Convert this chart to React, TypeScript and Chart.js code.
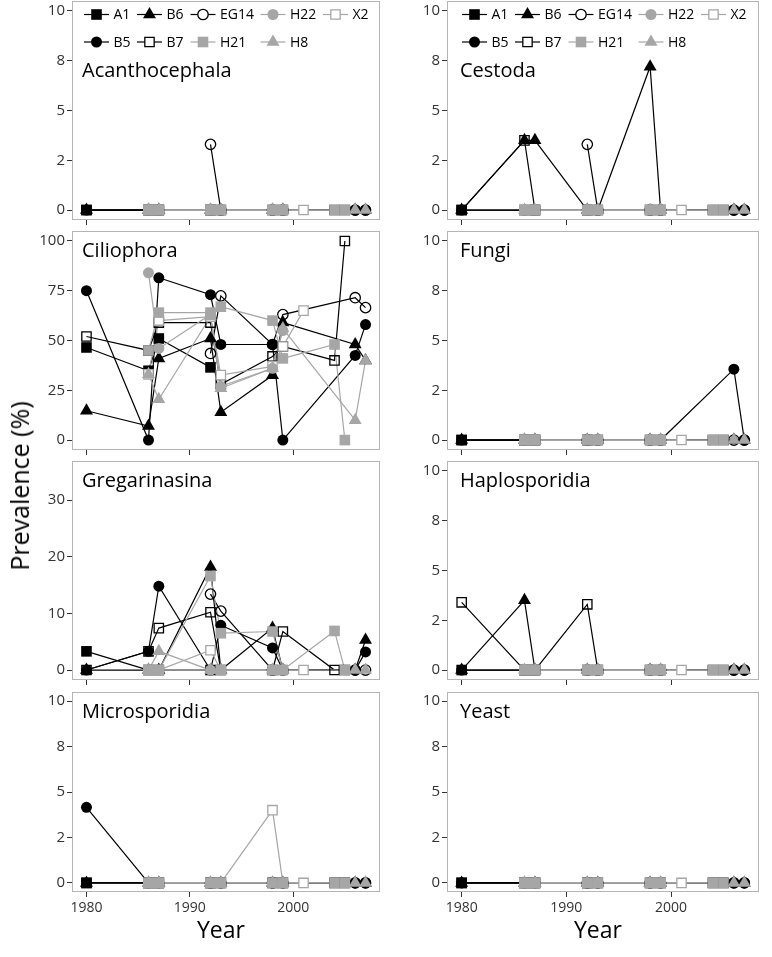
import React, { useEffect, useRef } from 'react';
import { Chart, registerables } from 'chart.js';
import { drawPoint } from 'chart.js/helpers';

Chart.register(...registerables);

const FONT = '"Open Sans", "DejaVu Sans", sans-serif';
const BLACK = '#000000';
const GREY = '#A6A6A6';

// ---- sites and sampling years ----
const sites = ['A1', 'B5', 'B6', 'B7', 'EG14', 'H21', 'H22', 'H8', 'X2'];

const yearsA1 = [1980, 1986, 1987, 1992];
const yearsB5 = [1980, 1986, 1987, 1992, 1993, 1998, 1999, 2006, 2007];
const yearsB6 = [1980, 1986, 1987, 1992, 1993, 1998, 1999, 2006, 2007];
const yearsB7 = [1980, 1986, 1987, 1992, 1993, 1998, 1999, 2004, 2005];
const yearsEG14 = [1992, 1993, 1998, 1999, 2006, 2007];
const yearsH21 = [1986, 1987, 1992, 1993, 1998, 1999, 2004, 2005];
const yearsH22 = [1986, 1987, 1992, 1993, 1998, 1999];
const yearsH8 = [1986, 1987, 1992, 1993, 1998, 1999, 2006, 2007];
const yearsX2 = [1986, 1987, 1992, 1993, 1998, 1999, 2001];

// ---- prevalence (%) values, same order as the years above ----
// Acanthocephala
const acanA1 = [0, 0, 0, 0];
const acanB5 = [0, 0, 0, 0, 0, 0, 0, 0, 0];
const acanB6 = [0, 0, 0, 0, 0, 0, 0, 0, 0];
const acanB7 = [0, 0, 0, 0, 0, 0, 0, 0, 0];
const acanEG14 = [3.3, 0, 0, 0, 0, 0];
const acanH21 = [0, 0, 0, 0, 0, 0, 0, 0];
const acanH22 = [0, 0, 0, 0, 0, 0];
const acanH8 = [0, 0, 0, 0, 0, 0, 0, 0];
const acanX2 = [0, 0, 0, 0, 0, 0, 0];

// Cestoda
const cestA1 = [0, 0, 0, 0];
const cestB5 = [0, 0, 0, 0, 0, 0, 0, 0, 0];
const cestB6 = [0, 3.5, 3.5, 0, 0, 7.2, 0, 0, 0];
const cestB7 = [0, 3.5, 0, 0, 0, 0, 0, 0, 0];
const cestEG14 = [3.3, 0, 0, 0, 0, 0];
const cestH21 = [0, 0, 0, 0, 0, 0, 0, 0];
const cestH22 = [0, 0, 0, 0, 0, 0];
const cestH8 = [0, 0, 0, 0, 0, 0, 0, 0];
const cestX2 = [0, 0, 0, 0, 0, 0, 0];

// Ciliophora
const ciliA1 = [46.5, 34.8, 51, 36.5];
const ciliB5 = [75, 0, 81.5, 73, 48, 48, 0, 42.5, 58];
const ciliB6 = [14.7, 7, 41, 51, 14, 32.5, 59, 48, 40];
const ciliB7 = [52, 45, 59, 59, 28, 42, 47, 40, 100];
const ciliEG14 = [43.5, 72.4, 48, 63, 71.5, 66.5];
const ciliH21 = [45, 64, 64, 67, 60, 41, 48, 0];
const ciliH22 = [84, 46, 63, 27, 36, 55];
const ciliH8 = [33, 20.5, 62, 26, 36, 56, 10, 40];
const ciliX2 = [33, 60, 62, 32.6, 37, 47, 65];

// Fungi
const fungA1 = [0, 0, 0, 0];
const fungB5 = [0, 0, 0, 0, 0, 0, 0, 3.56, 0];
const fungB6 = [0, 0, 0, 0, 0, 0, 0, 0, 0];
const fungB7 = [0, 0, 0, 0, 0, 0, 0, 0, 0];
const fungEG14 = [0, 0, 0, 0, 0, 0];
const fungH21 = [0, 0, 0, 0, 0, 0, 0, 0];
const fungH22 = [0, 0, 0, 0, 0, 0];
const fungH8 = [0, 0, 0, 0, 0, 0, 0, 0];
const fungX2 = [0, 0, 0, 0, 0, 0, 0];

// Gregarinasina
const gregA1 = [3.3, 0, 0, 0];
const gregB5 = [0, 3.3, 14.8, 0, 7.9, 3.9, 0, 0, 3.2];
const gregB6 = [0, 0, 0, 18.2, 0, 7.4, 0, 0, 5.3];
const gregB7 = [0, 3.3, 7.4, 10.2, 0, 0, 6.8, 0, 0];
const gregEG14 = [13.4, 10.4, 0, 0, 0, 0];
const gregH21 = [0, 0, 16.6, 6.5, 6.8, 0, 6.9, 0];
const gregH22 = [0, 0, 0, 0, 0, 0];
const gregH8 = [0, 3.3, 0, 0, 0, 0, 0, 0];
const gregX2 = [0, 0, 3.5, 0, 0, 0, 0];

// Haplosporidia
const haplA1 = [0, 0, 0, 0];
const haplB5 = [0, 0, 0, 0, 0, 0, 0, 0, 0];
const haplB6 = [0, 3.5, 0, 0, 0, 0, 0, 0, 0];
const haplB7 = [3.4, 0, 0, 3.3, 0, 0, 0, 0, 0];
const haplEG14 = [0, 0, 0, 0, 0, 0];
const haplH21 = [0, 0, 0, 0, 0, 0, 0, 0];
const haplH22 = [0, 0, 0, 0, 0, 0];
const haplH8 = [0, 0, 0, 0, 0, 0, 0, 0];
const haplX2 = [0, 0, 0, 0, 0, 0, 0];

// Microsporidia
const micrA1 = [0, 0, 0, 0];
const micrB5 = [4.16, 0, 0, 0, 0, 0, 0, 0, 0];
const micrB6 = [0, 0, 0, 0, 0, 0, 0, 0, 0];
const micrB7 = [0, 0, 0, 0, 0, 0, 0, 0, 0];
const micrEG14 = [0, 0, 0, 0, 0, 0];
const micrH21 = [0, 0, 0, 0, 0, 0, 0, 0];
const micrH22 = [0, 0, 0, 0, 0, 0];
const micrH8 = [0, 0, 0, 0, 0, 0, 0, 0];
const micrX2 = [0, 0, 0, 0, 4.0, 0, 0];

// Yeast
const yeasA1 = [0, 0, 0, 0];
const yeasB5 = [0, 0, 0, 0, 0, 0, 0, 0, 0];
const yeasB6 = [0, 0, 0, 0, 0, 0, 0, 0, 0];
const yeasB7 = [0, 0, 0, 0, 0, 0, 0, 0, 0];
const yeasEG14 = [0, 0, 0, 0, 0, 0];
const yeasH21 = [0, 0, 0, 0, 0, 0, 0, 0];
const yeasH22 = [0, 0, 0, 0, 0, 0];
const yeasH8 = [0, 0, 0, 0, 0, 0, 0, 0];
const yeasX2 = [0, 0, 0, 0, 0, 0, 0];

// ---- tick values / labels ----
const xTickValues = [1980, 1990, 2000];
const xTickLabels = ['1980', '1990', '2000'];
const smallTickValues = [0, 2.5, 5, 7.5, 10];
const smallTickLabels = ['0', '2', '5', '8', '10'];
const ciliTickValues = [0, 25, 50, 75, 100];
const ciliTickLabels = ['0', '25', '50', '75', '100'];
const gregTickValues = [0, 10, 20, 30];
const gregTickLabels = ['0', '10', '20', '30'];

const siteYears = [yearsA1, yearsB5, yearsB6, yearsB7, yearsEG14, yearsH21, yearsH22, yearsH8, yearsX2];

// ---- visual styles per site ----
const CLEAR = 'rgba(255,255,255,0)';
const siteStyle: Record<string, any> = {
  A1: { color: BLACK, fill: BLACK, shape: 'rect', r: 7.5, bw: 0 },
  B5: { color: BLACK, fill: BLACK, shape: 'circle', r: 5.5, bw: 0 },
  B6: { color: BLACK, fill: BLACK, shape: 'triangle', r: 7.5, bw: 0 },
  B7: { color: BLACK, fill: CLEAR, shape: 'rect', r: 6.6, bw: 1.3 },
  EG14: { color: BLACK, fill: CLEAR, shape: 'circle', r: 5.2, bw: 1.3 },
  H21: { color: GREY, fill: GREY, shape: 'rect', r: 7.5, bw: 0 },
  H22: { color: GREY, fill: GREY, shape: 'circle', r: 5.5, bw: 0 },
  H8: { color: GREY, fill: GREY, shape: 'triangle', r: 7.5, bw: 0 },
  X2: { color: GREY, fill: '#FFFFFF', shape: 'rect', r: 6.6, bw: 1.3 },
};
// stacking of markers (bottom -> top)
const pointStack = ['B5', 'B6', 'B7', 'EG14', 'A1', 'X2', 'H22', 'H8', 'H21'];

const legendCols = [['A1', 'B5'], ['B6', 'B7'], ['EG14', 'H21'], ['H22', 'H8'], ['X2']];
const legendColX = [12, 65, 118.5, 188.5, 251];
const legendRowY = [13.5, 41];

const colX = [[72, 380], [447, 759]];
const rowY = [[1, 220], [231, 450], [461, 680], [692, 892]];

type PanelDef = {
  title: string; col: number; row: number; values: number[][];
  yMin: number; yMax: number; ticks: number[]; labels: string[];
};

const panels: PanelDef[] = [
  { title: 'Acanthocephala', col: 0, row: 0, values: [acanA1, acanB5, acanB6, acanB7, acanEG14, acanH21, acanH22, acanH8, acanX2], yMin: -0.5, yMax: 10.5, ticks: smallTickValues, labels: smallTickLabels },
  { title: 'Cestoda', col: 1, row: 0, values: [cestA1, cestB5, cestB6, cestB7, cestEG14, cestH21, cestH22, cestH8, cestX2], yMin: -0.5, yMax: 10.5, ticks: smallTickValues, labels: smallTickLabels },
  { title: 'Ciliophora', col: 0, row: 1, values: [ciliA1, ciliB5, ciliB6, ciliB7, ciliEG14, ciliH21, ciliH22, ciliH8, ciliX2], yMin: -5, yMax: 105, ticks: ciliTickValues, labels: ciliTickLabels },
  { title: 'Fungi', col: 1, row: 1, values: [fungA1, fungB5, fungB6, fungB7, fungEG14, fungH21, fungH22, fungH8, fungX2], yMin: -0.5, yMax: 10.5, ticks: smallTickValues, labels: smallTickLabels },
  { title: 'Gregarinasina', col: 0, row: 2, values: [gregA1, gregB5, gregB6, gregB7, gregEG14, gregH21, gregH22, gregH8, gregX2], yMin: -1.76, yMax: 36.9, ticks: gregTickValues, labels: gregTickLabels },
  { title: 'Haplosporidia', col: 1, row: 2, values: [haplA1, haplB5, haplB6, haplB7, haplEG14, haplH21, haplH22, haplH8, haplX2], yMin: -0.5, yMax: 10.5, ticks: smallTickValues, labels: smallTickLabels },
  { title: 'Microsporidia', col: 0, row: 3, values: [micrA1, micrB5, micrB6, micrB7, micrEG14, micrH21, micrH22, micrH8, micrX2], yMin: -0.5, yMax: 10.5, ticks: smallTickValues, labels: smallTickLabels },
  { title: 'Yeast', col: 1, row: 3, values: [yeasA1, yeasB5, yeasB6, yeasB7, yeasEG14, yeasH21, yeasH22, yeasH8, yeasX2], yMin: -0.5, yMax: 10.5, ticks: smallTickValues, labels: smallTickLabels },
];

const PAD_TOP = 14;
const PAD_RIGHT = 12;
const PAD_BOTTOM = 6;
const Y_AXIS_W = 50;

const panelDecor = {
  id: 'panelDecor',
  afterDatasetsDraw(chart: any, _args: any, opts: any) {
    const { ctx, chartArea: a } = chart;
    ctx.save();
    ctx.strokeStyle = '#B5B5B5';
    ctx.lineWidth = 1;
    ctx.strokeRect(Math.round(a.left) + 0.5, Math.round(a.top) + 0.5, Math.round(a.right - a.left) - 1, Math.round(a.bottom - a.top) - 1);

    ctx.fillStyle = '#000';
    ctx.font = `20px ${FONT}`;
    ctx.textAlign = 'left';
    ctx.textBaseline = 'alphabetic';
    ctx.fillText(opts.title, a.left + opts.dx + 10, a.top + (opts.showLegend ? 76 : 26));

    if (opts.showLegend) {
      legendCols.forEach((col, ci) => {
        col.forEach((site, ri) => {
          const st = siteStyle[site];
          const x = a.left + legendColX[ci] + opts.dx;
          const y = a.top + legendRowY[ri];
          ctx.strokeStyle = st.color;
          ctx.lineWidth = 1.2;
          ctx.beginPath();
          ctx.moveTo(x, y);
          ctx.lineTo(x + 25, y);
          ctx.stroke();
          ctx.fillStyle = st.fill === CLEAR ? '#FFFFFF' : st.fill;
          ctx.strokeStyle = st.color;
          ctx.lineWidth = st.bw;
          drawPoint(ctx, { pointStyle: st.shape, radius: st.r, rotation: 0, borderWidth: st.bw }, x + 12.5, y);
          ctx.fillStyle = '#000';
          ctx.font = `14px ${FONT}`;
          ctx.textAlign = 'left';
          ctx.textBaseline = 'middle';
          ctx.fillText(site, x + 29.5, y + 1);
        });
      });
    }
    ctx.restore();
  },
};

function Panel({ p }: { p: PanelDef }) {
  const ref = useRef<HTMLCanvasElement | null>(null);
  const [x0, x1] = colX[p.col];
  const [y0, y1] = rowY[p.row];
  const isBottom = p.row === 3;
  const xAxisH = isBottom ? 30 : 8;
  const width = x1 - x0 + Y_AXIS_W + PAD_RIGHT;
  const height = y1 - y0 + PAD_TOP + xAxisH + PAD_BOTTOM;

  useEffect(() => {
    if (!ref.current) return;
    const lineSets = sites.map((site, i) => {
      const st = siteStyle[site];
      return {
        label: site + '-line',
        data: siteYears[i].map((yr, k) => ({ x: yr, y: p.values[i][k] })),
        borderColor: st.color,
        borderWidth: 1.2,
        pointRadius: 0,
        showLine: true,
        fill: false,
        tension: 0,
        order: 40 - i,
      };
    });
    const pointSets = sites.map((site, i) => {
      const st = siteStyle[site];
      return {
        label: site,
        data: siteYears[i].map((yr, k) => ({ x: yr, y: p.values[i][k] })),
        showLine: false,
        pointStyle: st.shape,
        pointRadius: st.r,
        pointBackgroundColor: st.fill,
        pointBorderColor: st.color,
        pointBorderWidth: st.bw,
        borderColor: st.color,
        backgroundColor: st.fill,
        order: 20 - pointStack.indexOf(site),
      };
    });

    const chart = new Chart(ref.current, {
      type: 'line',
      data: { datasets: [...lineSets, ...pointSets] as any },
      options: {
        animation: false,
        responsive: false,
        maintainAspectRatio: false,
        devicePixelRatio: 1,
        events: [],
        layout: { padding: { left: 0, top: PAD_TOP, right: PAD_RIGHT, bottom: PAD_BOTTOM } },
        plugins: {
          legend: { display: false },
          tooltip: { enabled: false },
          title: { display: false },
          panelDecor: { title: p.title, showLegend: p.row === 0, dx: p.col === 1 ? 3 : 0 },
        } as any,
        scales: {
          x: {
            type: 'linear',
            min: 1978.6,
            max: 2008.4,
            afterBuildTicks: (s: any) => { s.ticks = xTickValues.map((v) => ({ value: v })); },
            afterFit: (s: any) => { s.height = xAxisH; },
            grid: { drawOnChartArea: false, drawTicks: true, tickLength: 5, color: '#333', tickColor: '#333', lineWidth: 1 },
            border: { display: false },
            ticks: {
              display: isBottom,
              padding: 3,
              maxRotation: 0,
              autoSkip: false,
              color: '#333',
              font: { family: FONT, size: 14 },
              callback: (_v: any, i: number) => xTickLabels[i],
            },
          },
          y: {
            type: 'linear',
            min: p.yMin,
            max: p.yMax,
            afterBuildTicks: (s: any) => { s.ticks = p.ticks.map((v) => ({ value: v })); },
            afterFit: (s: any) => { s.width = Y_AXIS_W; },
            grid: { drawOnChartArea: false, drawTicks: true, tickLength: 5, color: '#333', tickColor: '#333', lineWidth: 1 },
            border: { display: false },
            ticks: {
              padding: 2,
              color: '#333',
              font: { family: FONT, size: 15 },
              callback: (_v: any, i: number) => p.labels[i],
            },
          },
        } as any,
      },
      plugins: [panelDecor as any],
    });
    return () => chart.destroy();
  }, []);

  return (
    <canvas
      ref={ref}
      width={width}
      height={height}
      style={{ position: 'absolute', left: x0 - Y_AXIS_W, top: y0 - PAD_TOP, width, height }}
    />
  );
}

export default function App() {
  return (
    <div style={{ position: 'absolute', left: 0, top: 0, width: 772, height: 957, background: '#fff', overflow: 'hidden', fontFamily: FONT }}>
      {panels.map((p) => <Panel key={p.title} p={p} />)}
      <div style={{ position: 'absolute', left: 19, top: 486, transform: 'translate(-50%, -50%) rotate(-90deg)', fontSize: 25, whiteSpace: 'nowrap', color: '#000' }}>
        Prevalence (%)
      </div>
      <div style={{ position: 'absolute', left: 221, top: 929, transform: 'translate(-50%, -50%)', fontSize: 23, color: '#000' }}>Year</div>
      <div style={{ position: 'absolute', left: 598, top: 929, transform: 'translate(-50%, -50%)', fontSize: 23, color: '#000' }}>Year</div>
    </div>
  );
}
